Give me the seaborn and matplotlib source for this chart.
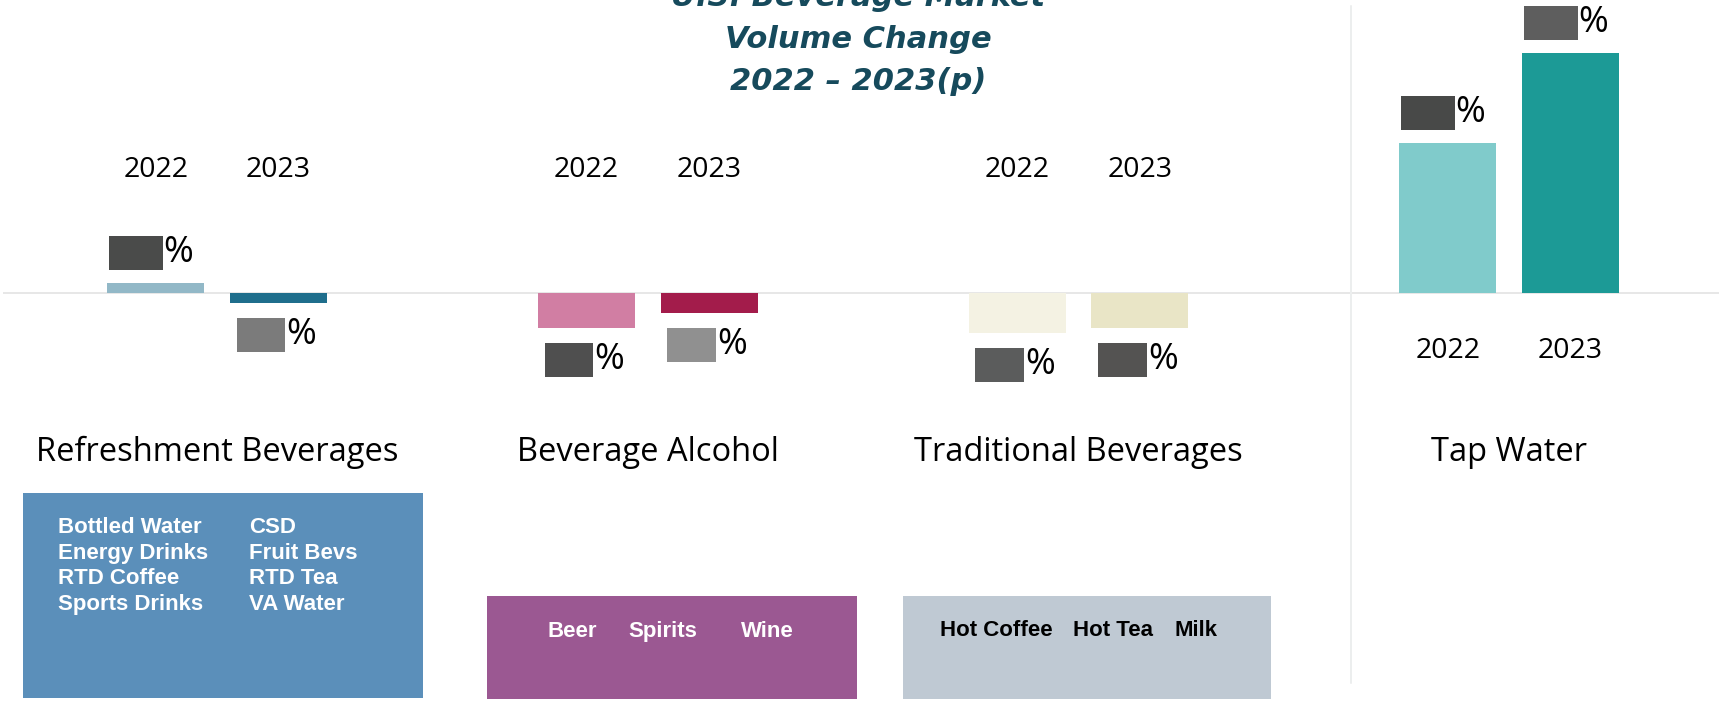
import numpy as np
import pandas as pd
import matplotlib
matplotlib.use("Agg")
import matplotlib.pyplot as plt
import matplotlib.transforms as mtransforms
from matplotlib.lines import Line2D
from matplotlib.patches import Rectangle
import seaborn as sns

# ---------------- data ----------------
title_lines = ["U.S. Beverage Market", "Volume Change", "2022 \u2013 2023(p)"]
groups = ["Refreshment Beverages", "Beverage Alcohol", "Traditional Beverages", "Tap Water"]
years = ["2022", "2023"]
change_2022 = [0.2, -0.7, -0.8, 3.0]
change_2023 = [-0.2, -0.4, -0.7, 4.8]
refresh_col1 = ["Bottled Water", "Energy Drinks", "RTD Coffee", "Sports Drinks"]
refresh_col2 = ["CSD", "Fruit Bevs", "RTD Tea", "VA Water"]
alcohol_items = ["Beer", "Spirits", "Wine"]
traditional_items = ["Hot Coffee", "Hot Tea", "Milk"]

# ---------------- styles ----------------
bar_colors_2022 = ["#92b8c7", "#d17ea3", "#f4f2e3", "#80cbcb"]
bar_colors_2023 = ["#1f6e8c", "#a31c4b", "#e9e5c6", "#1c9a96"]
mask_colors_2022 = ["#4a4b4a", "#4f4f4f", "#5b5c5c", "#484948"]
mask_colors_2023 = ["#7b7b7b", "#909090", "#545352", "#5e5e5e"]
year_label_below = [False, False, False, True]

W, H = 1719, 704
PT = 0.72  # points per pixel at dpi 100

sns.set_theme(style="white")
plt.rcParams["font.family"] = ["Open Sans", "DejaVu Sans"]

fig = plt.figure(figsize=(W / 100, H / 100), dpi=100)
ax = fig.add_axes([3 / W, 0, 1 - 3 / W, 1])

df = pd.DataFrame({
    "group": groups * 2,
    "year": [years[0]] * len(groups) + [years[1]] * len(groups),
    "change": change_2022 + change_2023,
})
sns.barplot(data=df, x="group", y="change", hue="year", order=groups,
            hue_order=years, width=0.57, gap=0.21, errorbar=None,
            palette=["#999999", "#444444"], saturation=1, legend=False, ax=ax)

for cont, cols in zip(ax.containers, [bar_colors_2022, bar_colors_2023]):
    for bar, c in zip(cont, cols):
        bar.set_facecolor(c)
        bar.set_edgecolor("none")
        bar.set_zorder(2)

ax.set_xlim(-0.4969, 3.4873)
ax.set_ylim(-8.22, 5.86)
ax.axis("off")
ax.axhline(0, color="#e2e2e2", lw=1.6 * PT, zorder=1)

# vertical separator
fig.add_artist(Line2D([1351 / W, 1351 / W], [1 - 6 / H, 1 - 683 / H],
                      transform=fig.transFigure, color="#eceeee", lw=2 * PT))

blend = mtransforms.blended_transform_factory(ax.transData, fig.transFigure)

# value labels (masked) and year labels
pad_px = 7
for cont, vals, masks, yr in zip(ax.containers, [change_2022, change_2023],
                                 [mask_colors_2022, mask_colors_2023], years):
    for gi, (bar, v, mc) in enumerate(zip(cont, vals, masks)):
        cx = bar.get_x() + bar.get_width() / 2
        dy = 30 if v >= 0 else -32
        ax.annotate(f"{v:+.1f}", xy=(cx, v), xytext=((7 - pad_px) * PT, dy * PT),
                    textcoords="offset points", ha="right", va="center",
                    fontsize=14.5, color=mc,
                    bbox=dict(boxstyle=f"square,pad={pad_px / 20:.2f}", fc=mc, ec="none"))
        ax.annotate("%", xy=(cx, v), xytext=(8 * PT, dy * PT),
                    textcoords="offset points", ha="left", va="center",
                    fontsize=26, color="black")
        ybase = 358 if year_label_below[gi] else 177
        ax.text(cx, 1 - ybase / H, yr, transform=blend, ha="center",
                va="baseline", fontsize=20.5, color="black")

# group names
for gi, g in enumerate(groups):
    ax.text(gi, 1 - 461 / H, g, transform=blend, ha="center", va="baseline",
            fontsize=23.5, color="black")

# title
for line, yb in zip(title_lines, [6, 48, 90]):
    fig.text(858 / W, 1 - yb / H, line, ha="center", va="baseline",
             fontsize=22, fontweight="bold", fontstyle="italic",
             family="DejaVu Sans", color="#164a5c")

# category boxes
def box(x0, y0, x1, y1, color):
    fig.add_artist(Rectangle((x0 / W, 1 - y1 / H), (x1 - x0) / W, (y1 - y0) / H,
                             transform=fig.transFigure, fc=color, ec="none"))

box(23, 493, 423, 698, "#5b8fba")
box(487, 596, 857, 699, "#9b5892")
box(903, 596, 1271, 699, "#bfc9d3")

bfont = dict(family="Liberation Sans", fontweight="bold", fontsize=16)
for i, (a, b) in enumerate(zip(refresh_col1, refresh_col2)):
    yb = 533 + i * 25.7
    fig.text(58 / W, 1 - yb / H, a, ha="left", va="baseline", color="white", **bfont)
    fig.text(249 / W, 1 - yb / H, b, ha="left", va="baseline", color="white", **bfont)

for item, xc in zip(alcohol_items, [572, 663, 767]):
    fig.text(xc / W, 1 - 637 / H, item, ha="center", va="baseline", color="white", **bfont)
for item, xc in zip(traditional_items, [996, 1113, 1196]):
    fig.text(xc / W, 1 - 636 / H, item, ha="center", va="baseline", color="black", **bfont)

fig.savefig("out.png", dpi=100)
